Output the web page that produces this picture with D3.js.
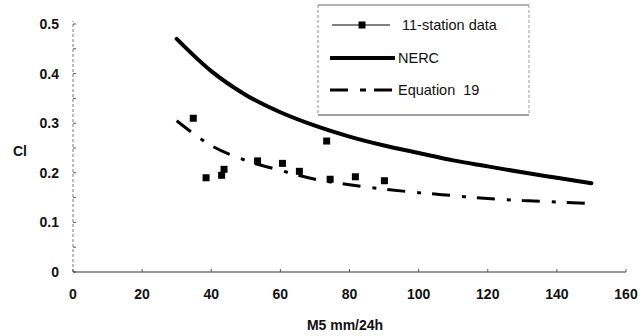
<!DOCTYPE html>
<html>
<head>
<meta charset="utf-8">
<script src="https://cdnjs.cloudflare.com/ajax/libs/d3/7.8.5/d3.min.js"></script>
<style>
body { margin: 0; background: #fff; }
svg { display: block; font-family: "Liberation Sans", Arial, sans-serif; }
</style>
</head>
<body>
<div id="graph"></div>
<script>
// station data (M5, Cl)
var stationX = [34.8, 38.5, 43.0, 43.7, 53.4, 60.6, 65.5, 73.4, 74.4, 81.7, 90.1];
var stationY = [0.310, 0.190, 0.195, 0.207, 0.224, 0.219, 0.203, 0.264, 0.187, 0.192, 0.184];

// curves
var curveX = [30, 40, 50, 60, 70, 80, 90, 100, 110, 120, 130, 140, 150];
var nercY  = [0.470, 0.405, 0.357, 0.322, 0.295, 0.273, 0.255, 0.240, 0.225, 0.213, 0.201, 0.190, 0.179];
var eq19Y  = [0.305, 0.255, 0.225, 0.205, 0.187, 0.176, 0.167, 0.160, 0.154, 0.148, 0.144, 0.141, 0.138];

var xTicks = [0, 20, 40, 60, 80, 100, 120, 140, 160];
var yTicks = [0, 0.1, 0.2, 0.3, 0.4, 0.5];
var yMinor = [0.05, 0.15, 0.25, 0.35, 0.45];

var w = 641, h = 336;

var svg = d3.select("#graph")
            .append("svg")
            .attr("width", w)
            .attr("height", h);

var x = d3.scaleLinear().domain([0, 160]).range([73, 626]);
var y = d3.scaleLinear().domain([0, 0.5]).range([272, 24]);

// y axis (dotted, ticks inside)
svg.append("line")
   .attr("x1", x(0)).attr("x2", x(0))
   .attr("y1", y(0)).attr("y2", y(0.5) - 3)
   .attr("stroke", "#777").attr("stroke-width", 1)
   .attr("stroke-dasharray", "3,2");

svg.selectAll(".ytick")
   .data(yTicks.concat(yMinor))
   .enter()
   .append("line")
   .attr("x1", x(0)).attr("x2", x(0) + 3)
   .attr("y1", function(d) { return y(d); })
   .attr("y2", function(d) { return y(d); })
   .attr("stroke", "#555");

svg.selectAll(".ylab")
   .data(yTicks)
   .enter()
   .append("text")
   .text(function(d) { return d === 0 ? "0" : d.toFixed(1); })
   .attr("x", 59)
   .attr("y", function(d) { return y(d) + 5; })
   .attr("text-anchor", "end")
   .attr("font-size", "14px")
   .attr("font-weight", "bold")
   .attr("fill", "#111");

// x axis
svg.append("line")
   .attr("x1", x(0)).attr("x2", x(160))
   .attr("y1", y(0)).attr("y2", y(0))
   .attr("stroke", "#333").attr("stroke-width", 1);

svg.selectAll(".xtick")
   .data(xTicks)
   .enter()
   .append("line")
   .attr("x1", function(d) { return x(d); })
   .attr("x2", function(d) { return x(d); })
   .attr("y1", y(0)).attr("y2", y(0) - 3)
   .attr("stroke", "#555");

svg.selectAll(".xlab")
   .data(xTicks)
   .enter()
   .append("text")
   .text(function(d) { return d; })
   .attr("x", function(d) { return x(d); })
   .attr("y", 299)
   .attr("text-anchor", "middle")
   .attr("font-size", "14px")
   .attr("font-weight", "bold")
   .attr("fill", "#111");

svg.append("text")
   .text("M5 mm/24h")
   .attr("x", 345).attr("y", 330)
   .attr("text-anchor", "middle")
   .attr("font-size", "14px")
   .attr("font-weight", "bold")
   .attr("fill", "#111");

svg.append("text")
   .text("Cl")
   .attr("x", 20).attr("y", 156)
   .attr("text-anchor", "middle")
   .attr("font-size", "14px")
   .attr("font-weight", "bold")
   .attr("fill", "#111");

// curves
var line = d3.line()
   .x(function(d) { return x(d[0]); })
   .y(function(d) { return y(d[1]); })
   .curve(d3.curveMonotoneX);

svg.append("path")
   .datum(d3.zip(curveX, nercY))
   .attr("d", line)
   .attr("fill", "none")
   .attr("stroke", "#000")
   .attr("stroke-width", 4)
   .attr("stroke-linecap", "round");

svg.append("path")
   .datum(d3.zip(curveX, eq19Y))
   .attr("d", line)
   .attr("fill", "none")
   .attr("stroke", "#000")
   .attr("stroke-width", 3)
   .attr("stroke-dasharray", "18,12,4,11");

// station points
svg.selectAll(".pt")
   .data(d3.zip(stationX, stationY))
   .enter()
   .append("rect")
   .attr("x", function(d) { return x(d[0]) - 3.5; })
   .attr("y", function(d) { return y(d[1]) - 3.5; })
   .attr("width", 7)
   .attr("height", 7)
   .attr("fill", "#000");

// legend
var lg = svg.append("g");
lg.append("rect")
  .attr("x", 318).attr("y", 5)
  .attr("width", 211).attr("height", 110)
  .attr("fill", "#fff")
  .attr("stroke", "none");
lg.append("line").attr("x1", 318).attr("x2", 529).attr("y1", 5).attr("y2", 5)
  .attr("stroke", "#666");
lg.append("line").attr("x1", 318).attr("x2", 529).attr("y1", 115).attr("y2", 115)
  .attr("stroke", "#444");
lg.append("line").attr("x1", 318).attr("x2", 318).attr("y1", 5).attr("y2", 115)
  .attr("stroke", "#888").attr("stroke-dasharray", "3,2");
lg.append("line").attr("x1", 529).attr("x2", 529).attr("y1", 5).attr("y2", 115)
  .attr("stroke", "#999").attr("stroke-dasharray", "3,2");

lg.append("line").attr("x1", 332).attr("x2", 390).attr("y1", 25).attr("y2", 25)
  .attr("stroke", "#000").attr("stroke-width", 1);
lg.append("rect").attr("x", 358.5).attr("y", 21.5).attr("width", 7).attr("height", 7)
  .attr("fill", "#000");
lg.append("line").attr("x1", 330).attr("x2", 395).attr("y1", 58).attr("y2", 58)
  .attr("stroke", "#000").attr("stroke-width", 4);
lg.append("line").attr("x1", 330).attr("x2", 395).attr("y1", 90).attr("y2", 90)
  .attr("stroke", "#000").attr("stroke-width", 3)
  .attr("stroke-dasharray", "18,12,6,8");

var legendNames = ["11-station data", "NERC", "Equation  19"];
var legendX = [402, 398, 398];
var legendY = [25, 58, 90];
lg.selectAll(".lt")
  .data(legendNames)
  .enter()
  .append("text")
  .text(function(d) { return d; })
  .attr("x", function(d, i) { return legendX[i]; })
  .attr("y", function(d, i) { return legendY[i] + 5; })
  .attr("font-size", "14.5px")
  .attr("fill", "#111")
  .style("white-space", "pre");
</script>
</body>
</html>
